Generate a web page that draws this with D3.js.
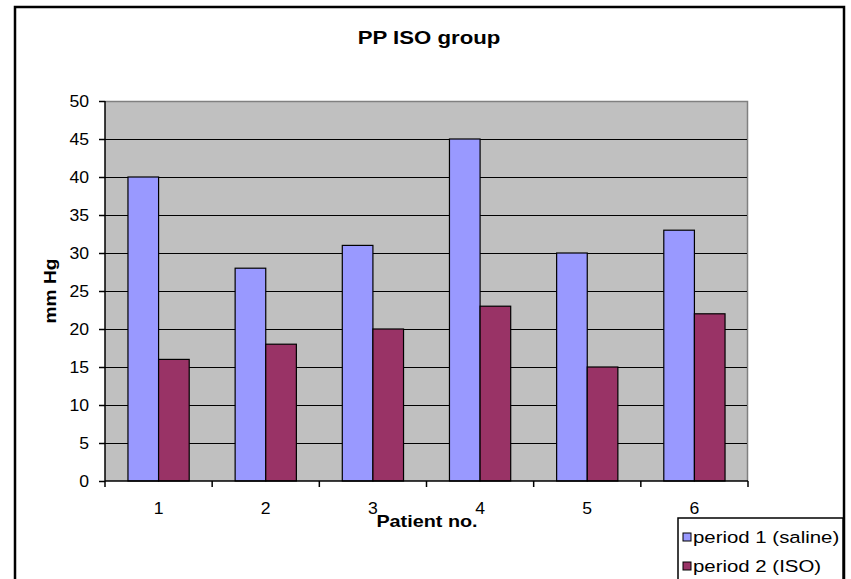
<!DOCTYPE html>
<html>
<head>
<meta charset="utf-8">
<script src="https://cdn.jsdelivr.net/npm/d3@7"></script>
<style>
  html, body { margin: 0; padding: 0; background: #fff; }
  svg { display: block; font-family: "Liberation Sans", Arial, sans-serif; }
</style>
</head>
<body>
<svg id="chart" width="851" height="579"></svg>
<script>
// Pulse pressure per patient, two study periods
const patients = ["1", "2", "3", "4", "5", "6"];
const period1Saline = [40, 28, 31, 45, 30, 33];
const period2Iso = [16, 18, 20, 23, 15, 22];
const seriesNames = ["period 1 (saline)", "period 2 (ISO)"];
const seriesColors = ["#9999FF", "#993366"];
const yTicks = [0, 5, 10, 15, 20, 25, 30, 35, 40, 45, 50];

const svg = d3.select("#chart");
const stretch = 1.2;     // wide letterforms for titles and legend
const tickStretch = 1.1; // slightly wide digits

const plot = { left: 105, right: 748, top: 101, bottom: 481 };

// outer frame
svg.append("rect")
  .attr("x", 15).attr("y", 7)
  .attr("width", 829).attr("height", 590)
  .attr("fill", "#fff").attr("stroke", "#000").attr("stroke-width", 2.5);

const x = d3.scaleBand().domain(patients).range([plot.left, plot.right]).padding(0);
const y = d3.scaleLinear().domain([0, 50]).range([plot.bottom, plot.top]);

// plot background
svg.append("rect")
  .attr("x", plot.left).attr("y", plot.top)
  .attr("width", plot.right - plot.left).attr("height", plot.bottom - plot.top)
  .attr("fill", "#C0C0C0");
svg.append("path")
  .attr("d", `M${plot.left},${plot.top + 0.5}H${plot.right - 0.5}V${plot.bottom}`)
  .attr("fill", "none").attr("stroke", "#808080").attr("stroke-width", 1.5);

// horizontal gridlines
svg.append("g").selectAll("line")
  .data(yTicks.filter(d => d > 0 && d < 50))
  .join("line")
  .attr("x1", plot.left).attr("x2", plot.right - 1)
  .attr("y1", d => Math.round(y(d)) + 0.5).attr("y2", d => Math.round(y(d)) + 0.5)
  .attr("stroke", "#000").attr("stroke-width", 1.2);

// bars
const bw = x.bandwidth() / 3.5;
const groups = svg.append("g").selectAll("g")
  .data(patients)
  .join("g");
groups.each(function (p, i) {
  const g = d3.select(this);
  [period1Saline[i], period2Iso[i]].forEach((v, s) => {
    g.append("rect")
      .attr("x", x(p) + 0.75 * bw + s * bw)
      .attr("y", y(v))
      .attr("width", bw)
      .attr("height", y(0) - y(v))
      .attr("fill", seriesColors[s])
      .attr("stroke", "#000").attr("stroke-width", 1.2);
  });
});

// y axis
const yAxis = svg.append("g").attr("transform", `translate(${plot.left},0)`)
  .call(d3.axisLeft(y).tickValues(yTicks).tickSize(6).tickPadding(0));
yAxis.select(".domain").attr("stroke", "#000").attr("stroke-width", 1.5)
  .attr("d", `M0,${plot.top}V${plot.bottom}`);
yAxis.selectAll(".tick line").attr("stroke", "#000").attr("stroke-width", 1.5);
yAxis.selectAll(".tick text")
  .attr("x", 0).attr("dy", "0.36em")
  .attr("font-size", 16).attr("fill", "#000")
  .attr("font-family", "Liberation Sans, Arial, sans-serif")
  .attr("transform", `translate(-16,0) scale(${tickStretch},1)`);

// x axis: ticks at category boundaries
const xAxisG = svg.append("g").attr("transform", `translate(0,${plot.bottom})`);
xAxisG.append("line")
  .attr("x1", plot.left).attr("x2", plot.right)
  .attr("stroke", "#000").attr("stroke-width", 1.5);
const bounds = patients.map(p => x(p)).concat([x(patients[patients.length - 1]) + x.bandwidth()]);
xAxisG.selectAll("line.tk").data(bounds).join("line")
  .attr("class", "tk")
  .attr("x1", d => d).attr("x2", d => d)
  .attr("y1", 0).attr("y2", 6)
  .attr("stroke", "#000").attr("stroke-width", 1.5);
xAxisG.selectAll("text").data(patients).join("text")
  .attr("transform", d => `translate(${x(d) + x.bandwidth() / 2},33) scale(${tickStretch},1)`)
  .attr("text-anchor", "middle")
  .attr("font-size", 16)
  .text(d => d);

// titles
svg.append("text")
  .attr("transform", `translate(429,44) scale(${stretch},1)`)
  .attr("text-anchor", "middle")
  .attr("font-size", 18.5).attr("font-weight", "bold")
  .text("PP ISO group");
svg.append("text")
  .attr("transform", `translate(427,527) scale(${stretch},1)`)
  .attr("text-anchor", "middle")
  .attr("font-size", 16.5).attr("font-weight", "bold")
  .text("Patient no.");
svg.append("text")
  .attr("transform", `translate(56,291) rotate(-90) scale(${stretch},1)`)
  .attr("text-anchor", "middle")
  .attr("font-size", 16).attr("font-weight", "bold")
  .text("mm Hg");

// legend
const legend = svg.append("g");
legend.append("rect")
  .attr("x", 678).attr("y", 518)
  .attr("width", 165).attr("height", 80)
  .attr("fill", "#fff").attr("stroke", "#000").attr("stroke-width", 1.5);
seriesNames.forEach((name, i) => {
  const cy = 537 + i * 29;
  legend.append("rect")
    .attr("x", 683).attr("y", cy - 4)
    .attr("width", 8).attr("height", 8)
    .attr("fill", seriesColors[i]).attr("stroke", "#000").attr("stroke-width", 1);
  legend.append("text")
    .attr("transform", `translate(693,${cy + 6}) scale(1.2,1)`)
    .attr("font-size", 17)
    .text(name);
});
</script>
</body>
</html>
